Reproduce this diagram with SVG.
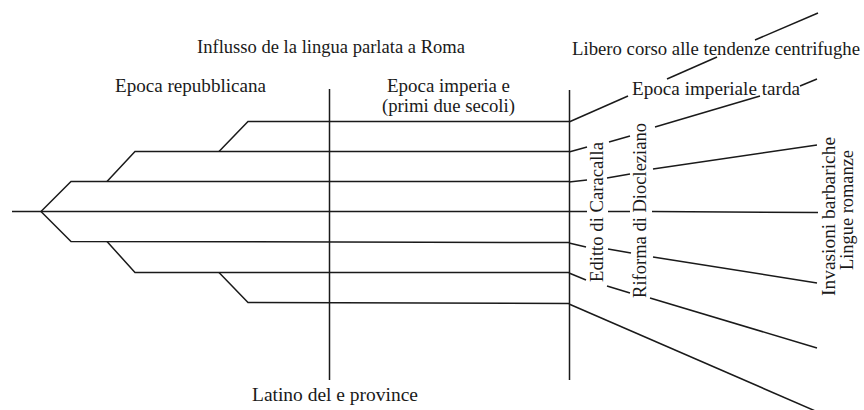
<svg xmlns="http://www.w3.org/2000/svg" width="864" height="410" viewBox="0 0 864 410">
<style>
.ln{fill:none;stroke:#1a1a1a;stroke-width:1.5;stroke-linejoin:miter}
.t{font-family:"Liberation Serif","DejaVu Serif",serif;font-size:18px;fill:#1a1a1a}
</style>
<rect width="864" height="410" fill="#fff"/>
<g id="connectors">
<polyline class="ln" points="12,211.5 569,211.5"/>
<polyline class="ln" points="41,211.5 71,181.5 569,181.5"/>
<polyline class="ln" points="41,211.5 71,241.5 569,242.5"/>
<polyline class="ln" points="107,181.5 135,151.5 569,151.5"/>
<polyline class="ln" points="107,241.5 135,272.5 569,272.5"/>
<polyline class="ln" points="219,151.5 248,121.5 569,121.5"/>
<polyline class="ln" points="219,272.5 248,302.5 569,303.5"/>
<line class="ln" x1="329.5" y1="89" x2="329.5" y2="380"/>
<line class="ln" x1="569.5" y1="90" x2="569.5" y2="380"/>
<line class="ln" x1="569" y1="122" x2="628" y2="96"/>
<line class="ln" x1="667" y1="79" x2="717" y2="57"/>
<line class="ln" x1="755" y1="40" x2="818" y2="13"/>
<line class="ln" x1="569" y1="152" x2="587" y2="147"/>
<line class="ln" x1="609" y1="142" x2="630" y2="136"/>
<line class="ln" x1="655" y1="127" x2="760" y2="96"/>
<line class="ln" x1="800" y1="86" x2="817" y2="79"/>
<line class="ln" x1="569" y1="182" x2="587" y2="180"/>
<line class="ln" x1="607" y1="178" x2="630" y2="174"/>
<line class="ln" x1="653" y1="169" x2="817" y2="145"/>
<line class="ln" x1="569" y1="211.5" x2="587" y2="211.5"/>
<line class="ln" x1="608" y1="211.5" x2="630" y2="211.5"/>
<line class="ln" x1="652" y1="211.5" x2="818" y2="212.5"/>
<line class="ln" x1="569" y1="243" x2="586" y2="247"/>
<line class="ln" x1="608" y1="249" x2="631" y2="253"/>
<line class="ln" x1="653" y1="257" x2="817" y2="283"/>
<line class="ln" x1="569" y1="273" x2="586" y2="280"/>
<line class="ln" x1="607" y1="286" x2="630" y2="293"/>
<line class="ln" x1="650" y1="298" x2="817" y2="348"/>
<line class="ln" x1="569" y1="304" x2="820" y2="413"/>
</g>
<g id="influsso"><text class="t" x="197" y="53" textLength="268" lengthAdjust="spacingAndGlyphs">Influsso de la lingua parlata a Roma</text></g>
<g id="repubblicana"><text class="t" x="115" y="92" textLength="151" lengthAdjust="spacingAndGlyphs">Epoca repubblicana</text></g>
<g id="imperiale"><text class="t" x="387" y="92" textLength="123" lengthAdjust="spacingAndGlyphs">Epoca imperia e</text>
<text class="t" x="382" y="112" textLength="133" lengthAdjust="spacingAndGlyphs">(primi due secoli)</text></g>
<g id="latino"><text class="t" x="252" y="401" textLength="166" lengthAdjust="spacingAndGlyphs">Latino del e province</text></g>
<g id="libero"><text class="t" x="572" y="55" textLength="288" lengthAdjust="spacingAndGlyphs">Libero corso alle tendenze centrifughe</text></g>
<g id="tarda"><text class="t" x="632" y="95" textLength="168" lengthAdjust="spacingAndGlyphs">Epoca imperiale tarda</text></g>
<g id="editto"><text class="t" transform="translate(603,212) rotate(-90)" text-anchor="middle" textLength="140" lengthAdjust="spacingAndGlyphs">Editto di Caracalla</text></g>
<g id="riforma"><text class="t" transform="translate(646,210.5) rotate(-90)" text-anchor="middle" textLength="175" lengthAdjust="spacingAndGlyphs">Riforma di Diocleziano</text></g>
<g id="invasioni"><text class="t" transform="translate(835,216.5) rotate(-90)" text-anchor="middle" textLength="159" lengthAdjust="spacingAndGlyphs">Invasioni barbariche</text></g>
<g id="lingue"><text class="t" transform="translate(853,210) rotate(-90)" text-anchor="middle" textLength="120" lengthAdjust="spacingAndGlyphs">Lingue romanze</text></g>
</svg>
